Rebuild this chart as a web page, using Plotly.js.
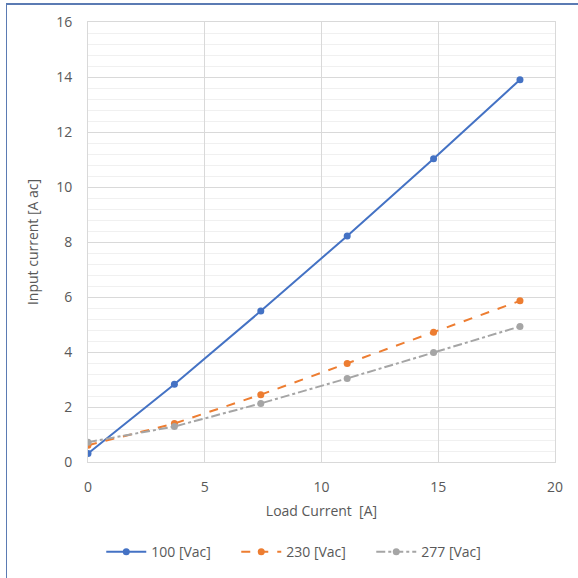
<!DOCTYPE html>
<html><head><meta charset="utf-8">
<script src="https://cdn.plot.ly/plotly-3.0.1.min.js"></script>
<style>
html,body{margin:0;padding:0;background:#fff;overflow:hidden;}
#chart{position:absolute;left:0;top:0;width:578px;height:578px;}
#frame{position:absolute;left:6px;top:3px;width:700px;height:700px;border-left:1px solid #5B7BB3;border-top:2px solid #5B7BB3;pointer-events:none;}
</style></head>
<body>
<div id="chart"></div>
<div id="frame"></div>
<script>
const loadCurrent = [0, 3.7, 7.4, 11.1, 14.8, 18.5];
const in100 = [0.31, 2.83, 5.49, 8.22, 11.03, 13.9];
const in230 = [0.61, 1.4, 2.45, 3.58, 4.72, 5.86];
const in277 = [0.72, 1.29, 2.13, 3.04, 3.98, 4.93];
const seriesNames = ['100 [Vac]', '230 [Vac]', '277 [Vac]'];

const font = {family: 'Open Sans, Liberation Sans, sans-serif', size: 13, color: '#595959'};
const titleFont = {family: font.family, size: 14, color: '#595959'};
const traces = [
  {x: loadCurrent, y: in100, name: seriesNames[0], mode: 'lines+markers',
   line: {color: '#4472C4', width: 2}, marker: {color: '#4472C4', size: 7}},
  {x: loadCurrent, y: in230, name: seriesNames[1], mode: 'lines+markers',
   line: {color: '#ED7D31', width: 2, dash: 'dash'}, marker: {color: '#ED7D31', size: 7}},
  {x: loadCurrent, y: in277, name: seriesNames[2], mode: 'lines+markers',
   line: {color: '#A5A5A5', width: 2, dash: 'dashdot'}, marker: {color: '#A5A5A5', size: 7}}
];
const layout = {
  width: 578, height: 578,
  margin: {l: 88, r: 23, t: 22, b: 116, autoexpand: false},
  paper_bgcolor: '#fff', plot_bgcolor: '#fff',
  font: font,
  showlegend: true,
  legend: {orientation: 'h', x: 0.462, xanchor: 'center', y: -0.205, yanchor: 'middle',
           font: {family: font.family, size: 14, color: '#595959'}, itemwidth: 40,
           entrywidth: 80, entrywidthmode: 'pixels'},
  xaxis: {range: [0, 20], dtick: 5, tick0: 0, showgrid: true, gridcolor: '#d9d9d9', gridwidth: 1,
          zeroline: false, showline: true, linecolor: '#d9d9d9', mirror: true, ticks: '',
          ticklabelstandoff: 12, tickfont: titleFont, automargin: false,
          title: {text: 'Load Current  [A]', font: titleFont, standoff: 11}},
  yaxis: {range: [0, 16], dtick: 2, tick0: 0, showgrid: true, gridcolor: '#d9d9d9', gridwidth: 1,
          minor: {dtick: 0.4, showgrid: true, gridcolor: '#f0f0f0', gridwidth: 1},
          zeroline: false, showline: true, linecolor: '#d9d9d9', mirror: true, ticks: '',
          ticklabelstandoff: 12, tickfont: titleFont, automargin: false,
          title: {text: 'Input current [A ac]', font: titleFont, standoff: 14}}
};
Plotly.newPlot('chart', traces, layout, {displayModeBar: false, staticPlot: true});
</script>
</body></html>
